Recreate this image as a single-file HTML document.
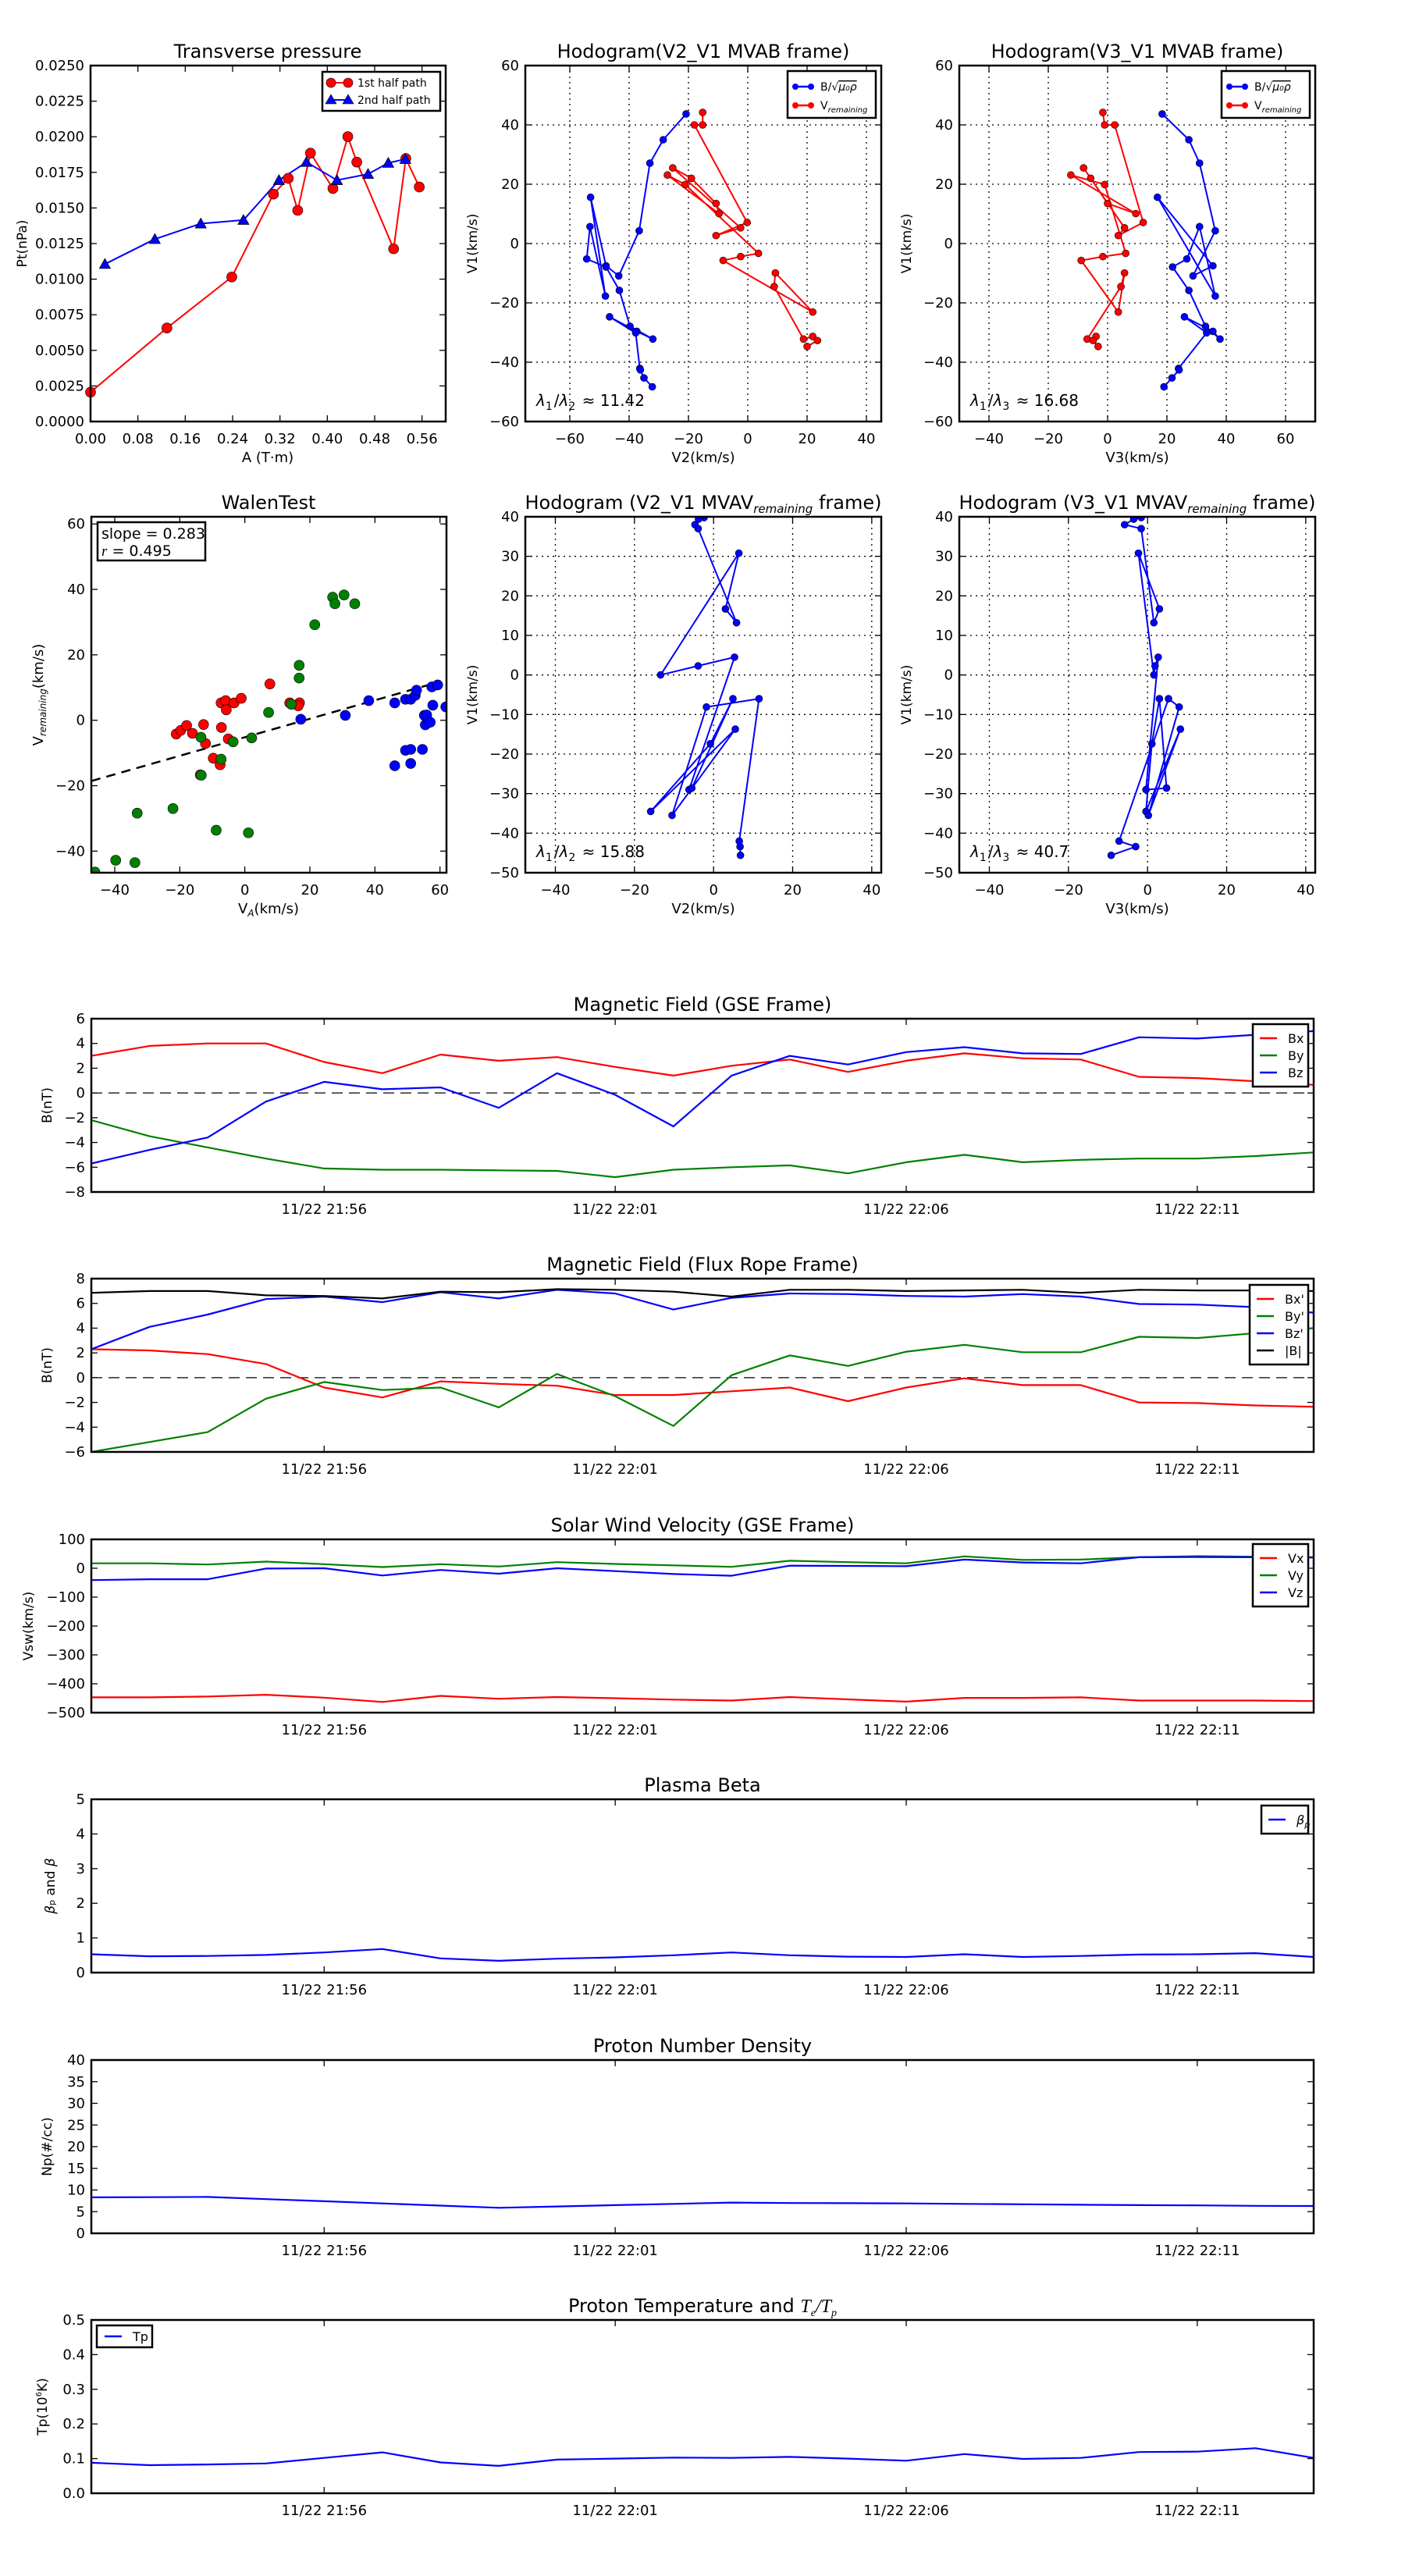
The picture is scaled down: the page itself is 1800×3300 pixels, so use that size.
<!DOCTYPE html>
<html><head><meta charset="utf-8">
<style>
html,body{margin:0;padding:0;background:#fff;}
svg{display:block;font-family:"DejaVu Sans","Liberation Sans",sans-serif;}
</style></head>
<body>
<svg id="fig" xmlns="http://www.w3.org/2000/svg" width="1800" height="3300" viewBox="0 0 1800 3300"></svg>
<script>
// ---------- Transverse pressure ----------
const tpA1 = [0.0,0.129,0.2386,0.309,0.334,0.350,0.3715,0.4095,0.4346,0.4498,0.512,0.5326,0.5554];
const tpP1 = [0.00206,0.00657,0.01015,0.01597,0.01708,0.01483,0.01885,0.01637,0.02001,0.01822,0.01213,0.01847,0.01647];
const tpA2 = [0.0243,0.1086,0.1862,0.2583,0.3183,0.3647,0.4163,0.4688,0.503,0.5319];
const tpP2 = [0.01106,0.01281,0.0139,0.01415,0.01695,0.01822,0.01695,0.01738,0.01816,0.01843];
const tpXTicks = [0,0.08,0.16,0.24,0.32,0.40,0.48,0.56];
const tpXLabels = ["0.00","0.08","0.16","0.24","0.32","0.40","0.48","0.56"];
const tpYTicks = [0,0.0025,0.005,0.0075,0.01,0.0125,0.015,0.0175,0.02,0.0225,0.025];
const tpYLabels = ["0.0000","0.0025","0.0050","0.0075","0.0100","0.0125","0.0150","0.0175","0.0200","0.0225","0.0250"];
// ---------- Hodogram MVAB ----------
const hbV2 = [-20.8,-28.5,-33,-36.6,-43.5,-47.8,-53,-48,-53.2,-54.3,-47.8,-43.3,-39.7,-32,-37.4,-46.6,-37.8,-36.4,-36.2,-35,-32.2];
const hbV3 = [18.4,27.4,31,36.3,28.8,35.5,16.8,36.3,31,26.7,21.9,27.4,33,37.9,35.5,25.9,33.4,23.9,24.1,21.7,19];
const hbV1 = [43.7,35.0,27.1,4.3,-10.9,-7.5,15.6,-17.7,5.7,-5.2,-7.9,-15.8,-27.9,-32.2,-29.6,-24.7,-30.1,-42.1,-42.6,-45.3,-48.3];
const hvV2 = [-15.2,-15.2,-18.0,-0.2,-10.7,-2.4,-25.3,-19.0,-10.7,-9.7,-27.1,-21.1,3.6,-2.4,-8.3,21.9,9.3,8.9,18.8,21.9,23.5,20.0];
const hvV3 = [-1.6,-1,2.4,12,3.6,5.7,-8.1,-5.7,0,9.5,-12.4,-1,6.1,-1.6,-8.9,3.6,5.7,4.5,-6.9,-3.9,-4.9,-3.2];
const hvV1 = [44.2,40.0,40.0,7.1,2.7,5.3,25.5,22.0,13.5,10.1,23.1,19.9,-3.3,-4.4,-5.7,-23.1,-9.9,-14.5,-32.2,-31.3,-32.7,-34.7];
// ---------- Walen ----------
const wRedX = [-21.1,-19.7,-17.9,-16.1,-12.7,-12.1,-7.2,-9.7,-7.6,-13.7,-7.3,-5.9,-5.7,-5.1,-3.3,-1.1,7.7,13.8,16.8,16.4];
const wRedY = [-4.2,-3.1,-1.6,-4.0,-1.3,-7.1,-2.2,-11.6,-13.6,-16.7,5.3,6.0,3.2,-5.7,5.3,6.7,11.1,5.3,5.3,4.4];
const wGrnX = [-46.1,-39.7,-33.8,-33.1,-22.1,-13.5,-13.4,-8.8,-7.3,-3.6,1.1,2.1,7.3,14.3,16.7,16.7,21.5,27,27.7,30.5,33.8];
const wGrnY = [-46.4,-42.8,-43.5,-28.4,-27,-5.2,-16.8,-33.6,-11.9,-6.6,-34.4,-5.4,2.4,4.9,12.9,16.8,29.2,37.6,35.6,38.3,35.6];
const wBluX = [17.2,30.9,38.1,46.1,46.1,49.4,49.4,51,51,51,52.4,52.8,54.6,55.2,55.9,55.5,57,57.8,57.5,59.3,61.8];
const wBluY = [0.3,1.5,6,5.3,-13.9,6.4,-9.2,-8.9,-13.2,6.4,7.6,9.2,-8.9,1.5,1.6,-1.4,-0.6,4.6,10.2,10.8,4.1];
const wSlope = [0.283];
const wIntercept = [-5.2];
// ---------- Hodogram MVAV remaining ----------
const hrV2 = [-2.4,-3.8,-4.7,-3.9,5.8,3,6.4,-13.4,-3.9,5.3,-6.2,-5.5,4.9,-0.8,-15.9,5.5,-10.5,-1.8,11.5,6.5,6.7,6.8];
const hrV3 = [-1.6,-3.5,-5.8,-1.6,1.6,3,-2.3,1.6,1.9,2.7,-0.4,4.8,3,1.1,-0.4,8.3,0.2,8,5.3,-7.2,-3,-9.2];
const hrV1 = [39.8,39.4,38,37,13.2,16.7,30.8,0,2.3,4.5,-29,-28.6,-6,-17.4,-34.5,-13.7,-35.5,-8.1,-6,-42,-43.4,-45.6];
// ---------- Time series (minutes after 21:52) ----------
const tMin = [0,1,2,3,4,5,6,7,8,9,10,11,12,13,14,15,16,17,18,19,20,21];
const timeTicks = [4,9,14,19];
const timeLabels = ["11/22 21:56","11/22 22:01","11/22 22:06","11/22 22:11"];
const gseBx = [3.0,3.8,4.0,4.0,2.5,1.6,3.1,2.6,2.9,2.1,1.4,2.2,2.7,1.7,2.6,3.2,2.8,2.7,1.3,1.2,0.95,0.65];
const gseBy = [-2.2,-3.5,-4.4,-5.3,-6.1,-6.2,-6.2,-6.25,-6.3,-6.8,-6.2,-6.0,-5.85,-6.5,-5.6,-5.0,-5.6,-5.4,-5.3,-5.3,-5.1,-4.8];
const gseBz = [-5.7,-4.6,-3.6,-0.7,0.9,0.3,0.45,-1.2,1.6,-0.15,-2.7,1.4,3.0,2.3,3.3,3.7,3.2,3.15,4.5,4.4,4.7,5.0];
const frBx = [2.3,2.2,1.9,1.1,-0.8,-1.6,-0.3,-0.5,-0.65,-1.4,-1.4,-1.1,-0.8,-1.9,-0.8,-0.05,-0.6,-0.6,-2.0,-2.05,-2.25,-2.35];
const frBy = [-6.0,-5.2,-4.4,-1.7,-0.35,-1.0,-0.8,-2.4,0.3,-1.5,-3.9,0.2,1.8,0.95,2.1,2.65,2.05,2.05,3.3,3.2,3.6,4.0];
const frBz = [2.3,4.1,5.1,6.35,6.55,6.1,6.9,6.4,7.1,6.8,5.5,6.45,6.8,6.75,6.6,6.55,6.75,6.55,5.95,5.9,5.7,5.25];
const frBt = [6.85,7.0,7.0,6.65,6.6,6.4,6.95,6.9,7.15,7.1,6.95,6.55,7.1,7.1,7.0,7.05,7.1,6.85,7.1,7.05,7.05,7.0];
const vx = [-447,-447,-444,-438,-448,-463,-442,-452,-446,-450,-455,-458,-446,-454,-462,-449,-449,-447,-458,-458,-458,-460];
const vy = [17,17,13,23,14,4,14,6,21,15,10,5,26,21,17,41,29,30,38,42,40,38];
const vz = [-41,-38,-38,-1,0,-25,-6,-19,0,-10,-20,-26,9,8,7,30,20,17,38,39,38,37];
const betaP = [0.53,0.47,0.48,0.51,0.58,0.68,0.41,0.34,0.40,0.44,0.50,0.58,0.50,0.46,0.45,0.53,0.45,0.48,0.52,0.53,0.56,0.45];
const np = [8.3,8.35,8.4,7.9,7.4,6.9,6.4,5.9,6.2,6.5,6.8,7.1,7.0,6.95,6.9,6.8,6.7,6.6,6.5,6.45,6.35,6.3];
const tp = [0.088,0.081,0.083,0.086,0.102,0.118,0.089,0.079,0.097,0.100,0.103,0.102,0.105,0.100,0.094,0.113,0.099,0.102,0.119,0.120,0.130,0.102];

const NS = 'http://www.w3.org/2000/svg';
const svg = document.getElementById('fig');
function mk(tag, attrs, parent) {
  const e = document.createElementNS(NS, tag);
  for (const k in attrs) e.setAttribute(k, attrs[k]);
  (parent || svg).appendChild(e);
  return e;
}
function axes(x0, y0, w, h, xmin, xmax, ymin, ymax) {
  return {x0, y0, w, h,
    sx: v => x0 + (v - xmin) / (xmax - xmin) * w,
    sy: v => y0 + h - (v - ymin) / (ymax - ymin) * h};
}
function frame(ax, name, xt, xl, yt, yl, grid) {
  const g = mk('g', {});
  
  
  const b = ax.y0 + ax.h, r = ax.x0 + ax.w;
  xt.forEach((v, i) => {
    const x = ax.sx(v);
    if (grid) mk('line', {x1:x, x2:x, y1:ax.y0, y2:b, stroke:'#000', 'stroke-width':1.3, 'stroke-dasharray':'2,5'}, g);
    mk('line', {x1:x, x2:x, y1:b, y2:b-8, stroke:'#000', 'stroke-width':1.3}, g);
    mk('line', {x1:x, x2:x, y1:ax.y0, y2:ax.y0+8, stroke:'#000', 'stroke-width':1.3}, g);
    const t = mk('text', {x:x, y:b+28, 'text-anchor':'middle', 'font-size':18}, g);
    t.textContent = xl[i];
    
    
  });
  yt.forEach((v, i) => {
    const y = ax.sy(v);
    if (grid) mk('line', {x1:ax.x0, x2:r, y1:y, y2:y, stroke:'#000', 'stroke-width':1.3, 'stroke-dasharray':'2,5'}, g);
    mk('line', {x1:ax.x0, x2:ax.x0+8, y1:y, y2:y, stroke:'#000', 'stroke-width':1.3}, g);
    mk('line', {x1:r, x2:r-8, y1:y, y2:y, stroke:'#000', 'stroke-width':1.3}, g);
    const t = mk('text', {x:ax.x0-8, y:y+6, 'text-anchor':'end', 'font-size':18}, g);
    t.textContent = yl[i];
    
    
  });
  return g;
}
function border(ax) {
  const e = mk('rect', {x:ax.x0, y:ax.y0, width:ax.w, height:ax.h, fill:'none', stroke:'#000', 'stroke-width':2.5});
  
  
}
function text(x, y, s, size, name, anchor, rot) {
  const t = mk('text', {x:x, y:y, 'font-size':size, 'text-anchor':anchor || 'middle'});
  if (rot) t.setAttribute('transform', 'rotate(-90 ' + x + ' ' + y + ')');
  t.innerHTML = s;
  
  
  return t;
}
function clip(ax, id) {
  const d = mk('clipPath', {id:id});
  mk('rect', {x:ax.x0, y:ax.y0, width:ax.w, height:ax.h}, d);
  return 'url(#' + id + ')';
}
function polyline(ax, xs, ys, color, width, name, cp, dash) {
  const pts = xs.map((v, i) => ax.sx(v).toFixed(1) + ',' + ax.sy(ys[i]).toFixed(1)).join(' ');
  const a = {points:pts, fill:'none', stroke:color, 'stroke-width':width, 'stroke-linejoin':'round'};
  if (cp) a['clip-path'] = cp;
  if (dash) a['stroke-dasharray'] = dash;
  const p = mk('polyline', a);
  
  
  return p;
}
function dots(ax, xs, ys, color, r, name, cp) {
  const g = mk('g', cp ? {'clip-path':cp} : {});
  
  
  xs.forEach((v, i) => {
    const c = mk('circle', {cx:ax.sx(v), cy:ax.sy(ys[i]), r:r, fill:color, stroke:'#000', 'stroke-width':0.6}, g);
    
    
  });
}
function tris(ax, xs, ys, color, s, name) {
  const g = mk('g', {});
  
  
  xs.forEach((v, i) => {
    const x = ax.sx(v), y = ax.sy(ys[i]);
    const p = mk('polygon', {points:`${x},${y-s} ${x-s},${y+s*0.8} ${x+s},${y+s*0.8}`, fill:color, stroke:'#000', 'stroke-width':0.8}, g);
    
    
  });
}
function legendBox(x, y, w, h, name) {
  const r = mk('rect', {x:x, y:y, width:w, height:h, fill:'#fff', stroke:'#000', 'stroke-width':2.5});
  
  
}
function legLine(x, y, color, label, size, name) {
  const l = mk('line', {x1:x, x2:x+22, y1:y, y2:y, stroke:color, 'stroke-width':2.5});
  
  
  text(x + 36, y + 6, label, size || 16, name, 'start');
}
const SUB = (s) => `<tspan font-size="70%" dy="5">${s}</tspan><tspan dy="-5">\u200A</tspan>`;

// ===== Panel 1: Transverse pressure =====
{
  const ax = axes(116, 84, 455, 456, 0, 0.6, 0, 0.025);
  frame(ax, 'transverse-pressure', tpXTicks, tpXLabels, tpYTicks, tpYLabels, false);
  polyline(ax, tpA1, tpP1, '#f00', 2, 'first-half-path-line');
  polyline(ax, tpA2, tpP2, '#00f', 2, 'second-half-path-line');
  dots(ax, tpA1, tpP1, '#f00', 6.5, 'first-half-path');
  tris(ax, tpA2, tpP2, '#00f', 7, 'second-half-path');
  border(ax);
  text(343, 74, 'Transverse pressure', 24, 'transverse-pressure-title');
  text(343, 592, 'A (T·m)', 18, 'x-axis-title');
  text(34, 312, 'Pt(nPa)', 17, 'y-axis-title', 'middle', true);
  legendBox(413, 92, 151, 50, 'transverse-legend');
  const lx = 424;
  mk('line', {x1:lx, x2:lx+22, y1:106, y2:106, stroke:'#f00', 'stroke-width':2});
  mk('circle', {cx:lx, cy:106, r:6, fill:'#f00', stroke:'#000', 'stroke-width':0.6});
  mk('circle', {cx:lx+22, cy:106, r:6, fill:'#f00', stroke:'#000', 'stroke-width':0.6});
  text(458, 111, '1st half path', 14, 'legend-entry-first-half', 'start');
  mk('line', {x1:lx, x2:lx+22, y1:128, y2:128, stroke:'#00f', 'stroke-width':2});
  mk('polygon', {points:`${lx},121 ${lx-7},133 ${lx+7},133`, fill:'#00f', stroke:'#000', 'stroke-width':0.6});
  mk('polygon', {points:`${lx+22},121 ${lx+15},133 ${lx+29},133`, fill:'#00f', stroke:'#000', 'stroke-width':0.6});
  text(458, 133, '2nd half path', 14, 'legend-entry-second-half', 'start');
}
// ===== Hodogram helper =====
function hodogram(x0, y0, xmin, xmax, ymin, ymax, xt, yt, title, xlab, ratio, series, legend, name) {
  const ax = axes(x0, y0, 456, 456, xmin, xmax, ymin, ymax);
  frame(ax, name, xt, xt.map(v => v < 0 ? '\u2212' + (-v) : '' + v), yt, yt.map(v => v < 0 ? '\u2212' + (-v) : '' + v), true);
  const cp = clip(ax, 'c' + name);
  series.forEach(s => {
    polyline(ax, s.x, s.y, s.c, 2, s.n + '-line', cp);
    dots(ax, s.x, s.y, s.c, 4.5, s.n, cp);
  });
  border(ax);
  text(x0 + 228, y0 - 10, title, 24, name + '-title');
  text(x0 + 228, y0 + 508, xlab, 18, name + '-x-axis-title');
  text(x0 - 62, y0 + 228, 'V1(km/s)', 17, name + '-y-axis-title', 'middle', true);
  text(x0 + 14, y0 + 436, ratio, 20, name + '-eigen-ratio', 'start');
  if (legend) {
    legendBox(x0 + 336, y0 + 7, 113, 60, name + '-legend');
    [['#00f', 'B/√<tspan text-decoration="overline" font-style="italic">μ₀ρ</tspan>', 27], ['#f00', 'V<tspan font-size="10" font-style="italic" dy="4">remaining</tspan>', 51]].forEach(([c, l, yy]) => {
      mk('line', {x1:x0+346, x2:x0+366, y1:y0+yy, y2:y0+yy, stroke:c, 'stroke-width':2.5});
      mk('circle', {cx:x0+346, cy:y0+yy, r:4, fill:c});
      mk('circle', {cx:x0+366, cy:y0+yy, r:4, fill:c});
      text(x0 + 378, y0 + yy + 5, l, 14, name + '-legend-entry', 'start');
    });
  }
}
const lam = (a, b, v) => `<tspan font-style="italic">λ</tspan>${SUB(a)}/<tspan font-style="italic">λ</tspan>${SUB(b)} ≈ ${v}`;
hodogram(673, 84, -75, 45, -60, 60, [-60,-40,-20,0,20,40], [-60,-40,-20,0,20,40,60], 'Hodogram(V2_V1 MVAB frame)', 'V2(km/s)', lam(1,2,'11.42'),
  [{x:hbV2, y:hbV1, c:'#00f', n:'b-field-v2'}, {x:hvV2, y:hvV1, c:'#f00', n:'v-remaining-v2'}], true, 'hodogram-v2-mvab');
hodogram(1229, 84, -50, 70, -60, 60, [-40,-20,0,20,40,60], [-60,-40,-20,0,20,40,60], 'Hodogram(V3_V1 MVAB frame)', 'V3(km/s)', lam(1,3,'16.68'),
  [{x:hbV3, y:hbV1, c:'#00f', n:'b-field-v3'}, {x:hvV3, y:hvV1, c:'#f00', n:'v-remaining-v3'}], true, 'hodogram-v3-mvab');
// ===== Walen test =====
{
  const ax = axes(117, 662, 455, 456, -47.2, 62, -46.6, 62.2);
  const t = [-40,-20,0,20,40,60];
  frame(ax, 'walen-test', t, t.map(v => v < 0 ? '\u2212' + (-v) : '' + v), t, t.map(v => v < 0 ? '\u2212' + (-v) : '' + v), false);
  const cp = clip(ax, 'cw');
  const lx = [-47.2, 60];
  polyline(ax, lx, lx.map(v => wSlope[0] * v + wIntercept[0]), '#000', 2.5, 'regression-line', cp, '12,8');
  dots(ax, wRedX, wRedY, '#f00', 6.5, 'walen-red', cp);
  dots(ax, wGrnX, wGrnY, '#008000', 6.5, 'walen-green', cp);
  dots(ax, wBluX, wBluY, '#00f', 6.5, 'walen-blue', cp);
  border(ax);
  text(344, 652, 'WalenTest', 24, 'walen-title');
  text(344, 1170, 'V<tspan font-size="12" font-style="italic" dy="4">A</tspan><tspan dy="-4">(km/s)</tspan>', 18, 'walen-x-axis-title');
  text(55, 890, 'V<tspan font-size="12" font-style="italic" dy="4">remaining</tspan><tspan dy="-4">(km/s)</tspan>', 18, 'walen-y-axis-title', 'middle', true);
  legendBox(125, 669, 138, 49, 'walen-stats-box');
  text(130, 690, 'slope = 0.283', 19, 'walen-slope', 'start');
  text(130, 712, '<tspan font-style="italic" font-family="Liberation Serif">r</tspan> = 0.495', 19, 'walen-r', 'start');
}
hodogram(673, 662, -47.6, 42.4, -50, 40, [-40,-20,0,20,40], [-50,-40,-30,-20,-10,0,10,20,30,40], 'Hodogram (V2_V1 MVAV<tspan font-size="15" font-style="italic" dy="5">remaining</tspan><tspan dy="-5"> frame)</tspan>', 'V2(km/s)', lam(1,2,'15.88'),
  [{x:hrV2, y:hrV1, c:'#00f', n:'v-remaining-v2'}], false, 'hodogram-v2-mvav');
hodogram(1229, 662, -47.6, 42.4, -50, 40, [-40,-20,0,20,40], [-50,-40,-30,-20,-10,0,10,20,30,40], 'Hodogram (V3_V1 MVAV<tspan font-size="15" font-style="italic" dy="5">remaining</tspan><tspan dy="-5"> frame)</tspan>', 'V3(km/s)', lam(1,3,'40.7'),
  [{x:hrV3, y:hrV1, c:'#00f', n:'v-remaining-v3'}], false, 'hodogram-v3-mvav');

// ===== Time series panels =====
function tsPanel(top, ymin, ymax, yt, yl, title, ylab, ylabX, series, zero, leg, name) {
  const ax = axes(117, top, 1566, 222, 0, 21, ymin, ymax);
  frame(ax, name, timeTicks, timeLabels, yt, yl, false);
  const cp = clip(ax, 'c' + name);
  if (zero) polyline(ax, [0, 21], [0, 0], '#000', 1.3, name + '-zero-line', cp, '14,8');
  series.forEach(s => polyline(ax, tMin, s.v, s.c, 2.2, s.n, cp));
  border(ax);
  text(900, top - 10, title, 24, name + '-title');
  text(ylabX, top + 111, ylab, 17, name + '-y-axis-title', 'middle', true);
  if (leg) {
    legendBox(leg.x, top + leg.dy, leg.w, 14 + series.length * 22, name + '-legend');
    series.forEach((s, i) => legLine(leg.x + 9, top + leg.dy + 18 + i * 22, s.c, s.l, 16, 'legend-entry-' + s.n));
  }
}
const neg = v => v < 0 ? '\u2212' + (-v) : '' + v;
tsPanel(1305, -8, 6, [-8,-6,-4,-2,0,2,4,6], [-8,-6,-4,-2,0,2,4,6].map(neg), 'Magnetic Field (GSE Frame)', 'B(nT)', 66,
  [{v:gseBx, c:'#f00', n:'bx', l:'Bx'}, {v:gseBy, c:'#008000', n:'by', l:'By'}, {v:gseBz, c:'#00f', n:'bz', l:'Bz'}], true, {x:1605, dy:7, w:71}, 'mag-gse');
tsPanel(1638, -6, 8, [-6,-4,-2,0,2,4,6,8], [-6,-4,-2,0,2,4,6,8].map(neg), 'Magnetic Field (Flux Rope Frame)', 'B(nT)', 66,
  [{v:frBx, c:'#f00', n:'bx-prime', l:"Bx'"}, {v:frBy, c:'#008000', n:'by-prime', l:"By'"}, {v:frBz, c:'#00f', n:'bz-prime', l:"Bz'"}, {v:frBt, c:'#000', n:'b-total', l:'|B|'}], true, {x:1601, dy:8, w:75}, 'mag-flux-rope');
tsPanel(1972, -500, 100, [-500,-400,-300,-200,-100,0,100], [-500,-400,-300,-200,-100,0,100].map(neg), 'Solar Wind Velocity (GSE Frame)', 'Vsw(km/s)', 42,
  [{v:vx, c:'#f00', n:'vx', l:'Vx'}, {v:vy, c:'#008000', n:'vy', l:'Vy'}, {v:vz, c:'#00f', n:'vz', l:'Vz'}], false, {x:1605, dy:6, w:71}, 'solar-wind-velocity');
tsPanel(2305, 0, 5, [0,1,2,3,4,5], ['0','1','2','3','4','5'], 'Plasma Beta', '<tspan font-style="italic">β</tspan><tspan font-size="11">p</tspan> and <tspan font-style="italic">β</tspan>', 70,
  [{v:betaP, c:'#00f', n:'beta-p', l:'<tspan font-style="italic">β</tspan><tspan font-size="11" font-style="italic" dy="4">p</tspan>'}], false, {x:1616, dy:8, w:60}, 'plasma-beta');
tsPanel(2639, 0, 40, [0,5,10,15,20,25,30,35,40], ['0','5','10','15','20','25','30','35','40'], 'Proton Number Density', 'Np(#/cc)', 66,
  [{v:np, c:'#00f', n:'np'}], false, null, 'proton-density');
tsPanel(2972, 0, 0.5, [0,0.1,0.2,0.3,0.4,0.5], ['0.0','0.1','0.2','0.3','0.4','0.5'], 'Proton Temperature and <tspan font-style="italic" font-family="Liberation Serif">T<tspan font-size="14" dy="5">e</tspan><tspan dy="-5">/T</tspan><tspan font-size="14" dy="5">p</tspan></tspan>', 'Tp(10<tspan font-size="10" dy="-7">6</tspan><tspan dy="7">K)</tspan>', 60,
  [{v:tp, c:'#00f', n:'tp', l:'Tp'}], false, null, 'proton-temperature');
legendBox(124, 2979, 71, 28, 'tp-legend');
legLine(134, 2993, '#00f', 'Tp', 16, 'legend-entry-tp');
</script>
</body></html>
